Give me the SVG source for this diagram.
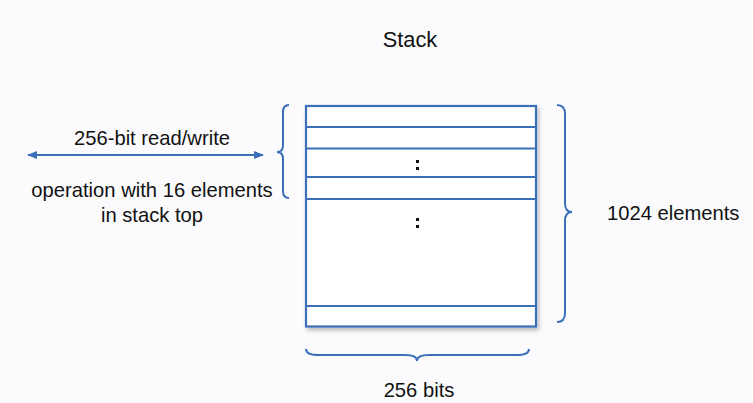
<svg xmlns="http://www.w3.org/2000/svg" width="753" height="403" viewBox="0 0 753 403">
<defs>
<style>
text{font-family:"Liberation Sans",Arial,sans-serif;font-size:20.2px;fill:#111}
.blue{stroke:#3b70b8;fill:none;stroke-width:2}
.row{stroke:#3b70b8;stroke-width:2.2}
.dot{fill:#111}
</style>
<marker id="ah" viewBox="0 0 10 10" refX="9" refY="5" markerWidth="5" markerHeight="5" orient="auto-start-reverse" markerUnits="strokeWidth">
<path d="M0,1 L10,5 L0,9 z" fill="#3b70b8"/>
</marker>
<filter id="sh" x="-5%" y="-5%" width="115%" height="115%">
<feDropShadow dx="2" dy="3" stdDeviation="2" flood-color="#000" flood-opacity="0.25"/>
</filter>
</defs>
<rect width="753" height="403" fill="#fbfbfd"/>
<g id="title"><text x="410" y="47" text-anchor="middle" style="font-size:21.8px">Stack</text></g>
<g id="stack">
<rect x="306" y="106" width="230" height="220.5" fill="#fff" stroke="#3b70b8" stroke-width="2.2" filter="url(#sh)"/>
<line class="row" x1="306" y1="127" x2="536" y2="127"/>
<line class="row" x1="306" y1="148.5" x2="536" y2="148.5"/>
<line class="row" x1="306" y1="177" x2="536" y2="177"/>
<line class="row" x1="306" y1="199" x2="536" y2="199"/>
<line class="row" x1="306" y1="306" x2="536" y2="306"/>
<rect class="dot" x="416" y="160" width="3" height="3"/>
<rect class="dot" x="416" y="167" width="3" height="3"/>
<rect class="dot" x="416" y="218" width="3" height="3"/>
<rect class="dot" x="416" y="225" width="3" height="3"/>
</g>
<g id="connectors">
<line class="blue" x1="28" y1="155" x2="263" y2="155" marker-start="url(#ah)" marker-end="url(#ah)"/>
<path class="blue" d="M289,105 Q283,105 283,112 L283,145 Q283,152 277,152 Q283,152 283,159 L283,191 Q283,198 289,198"/>
<path class="blue" d="M557,105 Q565,105 565,114 L565,203 Q565,212 572,212 Q565,212 565,221 L565,313 Q565,322 557,322"/>
<path class="blue" d="M306,349 Q306,355 318,355 L405,355 Q417,355 417,361 Q417,355 429,355 L517,355 Q529,355 529,349"/>
</g>
<g id="labels">
<text x="152" y="145" text-anchor="middle">256-bit read/write</text>
<text x="152" y="197" text-anchor="middle">operation with 16 elements</text>
<text x="152" y="222" text-anchor="middle">in stack top</text>
<text x="607" y="220">1024 elements</text>
<text x="419" y="397" text-anchor="middle">256 bits</text>
</g>
</svg>
